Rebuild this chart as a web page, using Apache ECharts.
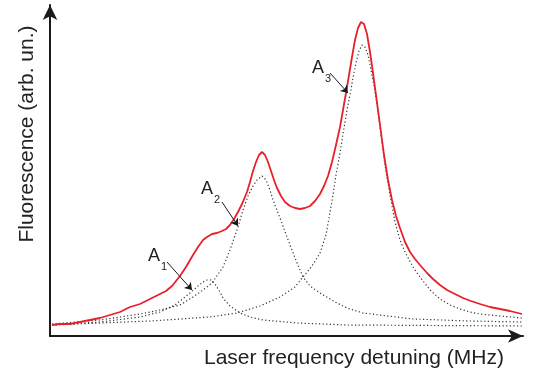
<!DOCTYPE html>
<html>
<head>
<meta charset="utf-8">
<script src="https://cdn.jsdelivr.net/npm/echarts@6/dist/echarts.min.js"></script>
<style>
  html, body { margin: 0; padding: 0; background: #fff; }
  #chart { width: 533px; height: 376px; }
</style>
</head>
<body>
<div id="chart"></div>
<script>
// measured fluorescence (arb. units), x = detuning (arb. units)
const measured = [
  [2, 11], [10, 12], [20, 12], [30, 14], [40, 16], [50, 18], [60, 21], [70, 24],
  [80, 29], [90, 32], [100, 37], [110, 42], [116, 45], [122, 50], [130, 60],
  [136, 69], [143, 81], [148, 89], [153, 96], [157, 99], [162, 102], [167, 103],
  [172, 105], [176, 107], [180, 111], [184, 117], [188, 124], [192, 132],
  [197, 144], [200, 154], [203, 165], [206, 174], [209, 181], [212, 184],
  [215, 181], [218, 174], [221, 165], [224, 156], [227, 148], [231, 140],
  [235, 134], [240, 130], [245, 128], [250, 127], [255, 128], [260, 130],
  [265, 135], [270, 142], [274, 150], [278, 160], [282, 174], [286, 191],
  [290, 209], [293, 226], [296, 243], [299, 261], [302, 279], [305, 296],
  [308, 308], [311, 314], [314, 312], [317, 302], [320, 284], [323, 263],
  [326, 241], [330, 211], [334, 181], [338, 156], [342, 136], [346, 120],
  [350, 108], [355, 94], [360, 84], [365, 77], [370, 71], [377, 63], [383, 57],
  [390, 51], [397, 46], [405, 42], [413, 38], [421, 35], [430, 32], [440, 29],
  [450, 27], [460, 25], [472, 22]
];

// fitted components
const peakA1 = [
  [2, 11], [50, 14], [90, 19], [110, 24], [125, 31], [140, 43], [148, 50],
  [153, 54], [157, 56], [161, 56], [165, 52], [170, 44], [173, 38], [180, 30],
  [190, 23], [200, 19], [213, 16], [247, 13], [297, 11], [472, 10]
];
const peakA2 = [
  [2, 12], [50, 16], [90, 22], [110, 26], [130, 31], [143, 39], [153, 46],
  [162, 53], [173, 69], [180, 86], [188, 109], [193, 126], [198, 140],
  [203, 150], [207, 156], [212, 160], [216, 156], [220, 146], [223, 136],
  [230, 118], [237, 99], [245, 78], [253, 59], [260, 50], [270, 43], [285, 34],
  [297, 28], [313, 23], [363, 17], [420, 15], [472, 14]
];
const peakA3 = [
  [2, 11], [50, 13], [100, 15], [130, 17], [160, 19], [187, 23], [210, 30],
  [230, 39], [245, 49], [253, 59], [262, 70], [270, 83], [276, 101], [280, 124],
  [283, 141], [286, 161], [290, 183], [294, 208], [297, 226], [300, 241],
  [303, 258], [306, 273], [309, 285], [312, 291], [315, 289], [318, 281],
  [321, 266], [324, 250], [327, 232], [330, 209], [335, 171], [340, 141],
  [345, 114], [350, 96], [355, 84], [363, 69], [370, 59], [380, 46], [390, 37],
  [400, 31], [410, 27], [420, 24], [430, 22], [450, 20], [472, 18]
];

// peak labels: text anchor, arrow start, arrow end
const annotations = [
  { sub: '1', text: [98, 71], from: [117, 74], to: [142, 46] },
  { sub: '2', text: [151, 138], from: [172, 134], to: [188, 110] },
  { sub: '3', text: [262, 259], from: [280, 263], to: [298, 243] }
];

const xTitle = 'Laser frequency detuning (MHz)';
const yTitle = 'Fluorescence (arb. un.)';

const font = '"Liberation Sans", Arial, Helvetica, sans-serif';
const chart = echarts.init(document.getElementById('chart'), null, { renderer: 'canvas' });

const dotted = { color: '#333', width: 1.2, type: [1.2, 2.4] };

chart.setOption({
  animation: false,
  grid: { left: 50, right: 10, top: 5, bottom: 40 },
  xAxis: {
    type: 'value', min: 0, max: 473,
    axisLine: { show: true, onZero: false, symbol: ['none', 'arrow'], symbolSize: [10, 15],
      lineStyle: { color: '#1a1a1a', width: 2 } },
    axisTick: { show: false }, axisLabel: { show: false }, splitLine: { show: false }
  },
  yAxis: {
    type: 'value', min: 0, max: 331,
    axisLine: { show: true, onZero: false, symbol: ['none', 'arrow'], symbolSize: [11, 15],
      lineStyle: { color: '#1a1a1a', width: 2 } },
    axisTick: { show: false }, axisLabel: { show: false }, splitLine: { show: false }
  },
  series: [
    { type: 'line', data: peakA1, showSymbol: false, lineStyle: dotted, z: 2 },
    { type: 'line', data: peakA2, showSymbol: false, lineStyle: dotted, z: 2 },
    { type: 'line', data: peakA3, showSymbol: false, lineStyle: dotted, z: 2 },
    {
      type: 'line', data: measured, showSymbol: false, z: 3,
      lineStyle: { color: '#e8202a', width: 1.8 },
      markLine: {
        silent: true, symbol: ['none', 'arrow'], symbolSize: 7,
        label: { show: false },
        lineStyle: { color: '#1a1a1a', width: 1, type: 'solid' },
        data: annotations.map(a => [{ coord: a.from }, { coord: a.to }])
      }
    }
  ]
});

const graphics = [
  {
    type: 'text', x: 27, y: 134, rotation: Math.PI / 2,
    style: { text: yTitle, font: '21px ' + font, fill: '#222', align: 'center', verticalAlign: 'middle' }
  },
  {
    type: 'text', x: 354, y: 358,
    style: { text: xTitle, font: '21px ' + font, fill: '#222', align: 'center', verticalAlign: 'middle' }
  }
];
annotations.forEach(a => {
  const p = chart.convertToPixel({ gridIndex: 0 }, a.text);
  graphics.push({
    type: 'text', x: p[0], y: p[1],
    style: { text: 'A', font: '18px ' + font, fill: '#222', align: 'left', verticalAlign: 'bottom' }
  });
  graphics.push({
    type: 'text', x: p[0] + 13, y: p[1] + 7,
    style: { text: a.sub, font: '11px ' + font, fill: '#222', align: 'left', verticalAlign: 'bottom' }
  });
});
chart.setOption({ graphic: graphics });
</script>
</body>
</html>
